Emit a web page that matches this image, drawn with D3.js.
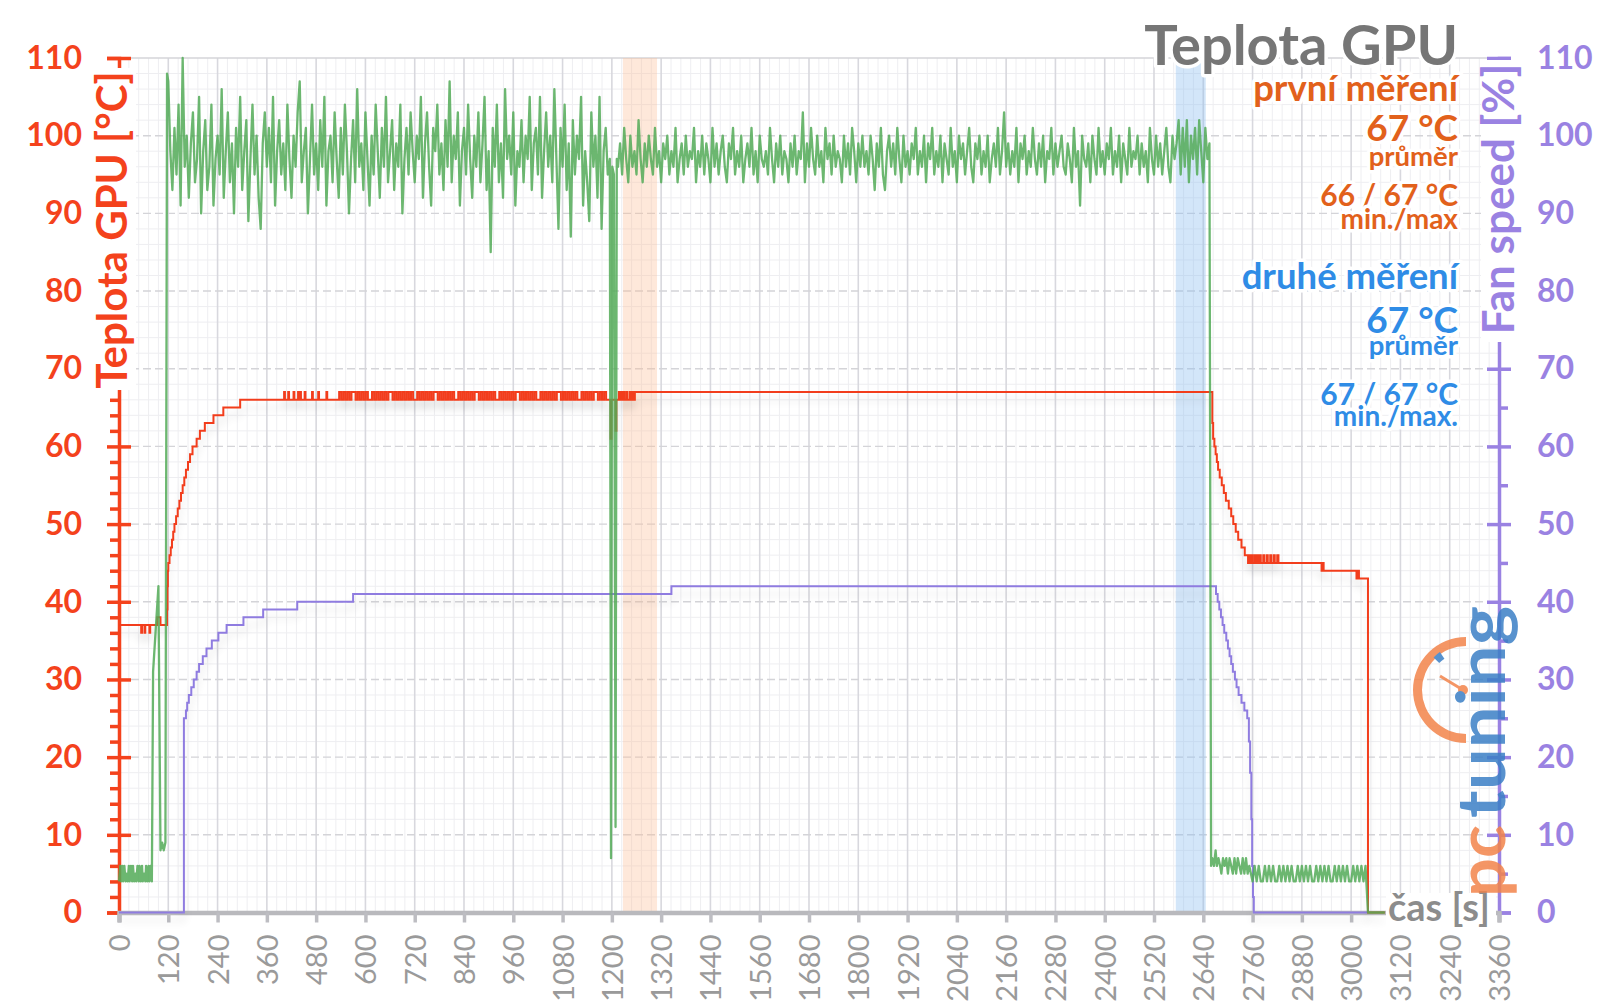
<!DOCTYPE html>
<html><head><meta charset="utf-8">
<script src="https://cdn.jsdelivr.net/npm/d3@7"></script>
<style>html,body{margin:0;padding:0;background:#fff;}svg{display:block;font-family:Lato,"Open Sans",sans-serif;}</style>
</head><body><svg id="chart" width="1600" height="1007"></svg>
<script>
// ---------------- DATA ----------------
const xTicks = d3.range(0, 3361, 120);
const yTicks = d3.range(0, 111, 10);

// GPU temperature (°C) – breakpoints (s, value)
const tempT1 = [0,54,56,62,64,74,76,93,101,116,117,118,119,120,123,126,129,132,135,139,143,147,151,155,159,163,168,173,179,189,197,209,230,254,295,402,404,412,414,425,427,436,438,441,443,452,454,470,472,485,487,505,507];
const tempV1 = [37,36,37,36,37,36,37,38,37,37,39,42,44,45,46,47,48,49,50,51,52,53,54,55,56,57,58,59,60,61,62,63,64,65,66,67,66,67,66,67,66,67,66,67,66,67,66,67,66,67,66,67,66];
// 66/67 flicker read every 5 s from 536 s
const tempFlickerStart = 536, tempFlickerStep = 5;
const tempFlickerV = [
67,66,67,66,67,66,67,67,66,67,66,67,
66,67,66,66,67,66,67,66,67,66,67,66,
67,67,66,67,66,67,66,67,66,67,66,67,
66,66,67,66,67,66,67,66,67,66,67,67,
66,67,66,67,66,67,66,67,66,66,67,66,
67,66,67,66,67,66,67,67,66,67,66,67,
66,67,66,67,66,66,67,66,67,66,67,66,
67,66,67,67,66,67,66,67,66,67,66,67,
66,66,67,66,67,66,67,66,67,66,67,67,
66,67,66,67,66,67,66,67,66,66,67,66,
67,66,67,66,67,67,66,67,66,67,66,66];
const tempT2 = [1195,1197,1199,1209,1211,1217,1219,1223,1225,1229,1231,1236,1238,1244,1246,1250,1252,1256,2660,2662,2664,2667,2670,2673,2676,2680,2685,2690,2695,2702,2708,2713,2719,2725,2733,2741,2749,2752,2754,2758,2760,2765,2767,2771,2774,2778,2780,2786,2789,2795,2797,2803,2806,2812,2814,2820,2823,2928,2930,2933,3013,3016,3019,3041,3082];
const tempV2 = [66,61,66,62,66,67,66,67,66,67,66,67,66,67,66,67,66,67,67,63,61,60,59,58,57,56,55,54,53,52,51,50,49,48,47,46,45,46,45,46,45,46,45,46,45,46,45,46,45,46,45,46,45,46,45,46,45,44,45,44,43,44,43,0,0];

// GPU load (green) – idle start
const loadStartT = [0,3,5,8,10,13,16,18,21,24,26,29,32,34,37,40,42,45,48,50,53,56,58,61,64,66,69,72,74,77,80,83,96,101,105,109,113,117];
const loadStartV = [4,6,4,6,4,6,4,5,4,6,4,6,4,6,4,5,4,6,4,6,4,6,4,5,4,6,4,6,4,6,4,31,42,8,9,8,9,108];
// first measurement, read every 5 s from 120 s
const load1Start = 120, load1Step = 5;
const load1V = [
107,98,93,101,95,104,91,110,96,100,92,99,
103,94,97,105,90,98,102,93,96,104,91,97,
100,95,106,92,98,103,94,99,90,101,96,105,
93,98,102,89,97,104,95,100,92,88,99,103,
96,101,94,105,91,98,102,95,99,93,104,97,
92,100,96,103,107,94,98,101,90,97,104,95,
99,93,102,96,105,91,98,100,94,103,97,92,
101,95,104,98,90,97,102,94,106,96,99,93,
103,97,91,100,95,104,98,92,101,96,105,94,
98,102,93,99,96,104,90,97,101,95,103,98,
94,100,97,105,92,99,103,96,91,101,98,104,
95,99,93,102,96,107,94,100,97,103,91,98,
101,95,104,97,92,100,96,103,94,99,105,93,
98,85,101,96,104,94,99,92,106,97,100,95,
103,91,98,96,102,94,100,97,105,93,99,101,
95,105,92,98,103,96,100,94,106,97,88,101,
96,104,93,99,87,102,95,100,97,105,91,98,
94,89,103,96,100,92,105,88,98,101,95,97];
const loadDipT = [1198,1201,1205,1209,1212];
const loadDipV = [7,96,95,11,97];
// second measurement, read every 5 s from 1215 s
const load2Start = 1215, load2Step = 5;
const load2V = [
96,99,95,101,97,94,100,96,98,95,102,97,
94,99,96,100,97,95,101,96,98,94,99,97,
100,95,98,96,101,94,97,99,95,100,96,98,
97,101,94,98,96,100,95,99,97,94,101,96,
99,95,98,100,96,94,99,97,101,95,98,96,
100,94,97,99,96,101,95,98,94,100,97,96,
98,95,101,97,94,99,96,100,95,98,97,94,
99,96,100,95,98,97,103,94,99,96,101,97,
95,100,96,98,94,101,97,99,95,100,96,98,
97,94,100,96,99,95,101,98,94,99,96,100,
96,98,95,100,97,93,99,96,101,95,93,98,
100,96,99,95,101,97,94,100,96,98,95,99,
97,101,95,98,96,100,94,99,97,101,95,98,
96,100,94,99,97,95,101,96,98,94,100,97,
99,95,98,101,96,94,99,97,100,95,98,96,
100,94,97,99,96,101,95,98,103,96,99,95,
98,96,101,94,99,97,100,95,98,96,101,97,
95,99,96,100,94,98,97,101,95,99,96,98,
100,96,95,99,97,94,101,96,98,91,100,97,
96,99,94,100,97,95,101,96,98,95,99,97,
101,95,98,96,100,94,99,97,95,101,96,98,
97,100,95,99,96,98,94,101,97,95,100,96,
99,95,98,101,96,94,100,97,99,102,95,101,
96,102,94,100,97,101,95,102,98,94,101,97,
99];
const loadTailT = [2659,2662,2666,2670,2673,2677,2681,2684,2688,2692,2696,2700,2704,2708,2712,2716,2720,2724,2728,2732,2736,2740,2744,2748,2752,2756];
const loadTailV = [6,7,6,8,6,7,6,5,7,6,7,5,7,6,5,7,5,7,6,5,7,5,7,5,6,5];
const loadIdleStart = 2760, loadIdleStep = 5;
const loadIdleV = [4,6,4,6,4,4,6,4,6,4,6,4,4,6,4,6,4,6,4,6,4,4,6,4,6,4,6,4,6,4,4,6,4,6,4,6,4,6,4,4,6,4,6,4,6,4,6,4,4,6,4,6,4,6,4,6];
const loadEndT = [3041,3082];
const loadEndV = [0,0];

// Fan speed (%)
const fanT = [0,158,163,166,170,176,182,189,195,204,213,226,242,262,303,351,434,570,1345,2668,2671,2675,2679,2683,2687,2691,2696,2700,2704,2708,2712,2717,2721,2726,2733,2740,2747,2751,2754,2757,2759,2761,2763,3041];
const fanV = [0,25,26,27,28,29,30,31,32,33,34,35,36,37,38,39,40,41,42,42,41,40,39,38,37,36,35,34,33,32,31,30,29,28,27,26,25,22,18,12,6,2,0,0];

// highlighted windows (s)
const bandStart = [1227, 2573];
const bandEnd = [1310, 2646];

// texts
const chartTitle = "Teplota GPU";
const leftTitle = "Teplota GPU [°C]";
const rightTitle = "Fan speed [%]";
const xTitle = "čas [s]";
const legend1 = ["první měření", "67 °C", "průměr", "66 / 67 °C", "min./max"];
const legend2 = ["druhé měření", "67 °C", "průměr", "67 / 67 °C", "min./max."];

// ---------------- DRAW ----------------
const zip = (t, v) => t.map((d, i) => [d, v[i]]);
const seq = (s, st, v) => v.map((d, i) => [s + i * st, d]);

const tempData = [...zip(tempT1, tempV1), ...seq(tempFlickerStart, tempFlickerStep, tempFlickerV), ...zip(tempT2, tempV2)];
const loadData = [...zip(loadStartT, loadStartV), ...seq(load1Start, load1Step, load1V), ...zip(loadDipT, loadDipV),
  ...seq(load2Start, load2Step, load2V), ...zip(loadTailT, loadTailV), ...seq(loadIdleStart, loadIdleStep, loadIdleV), ...zip(loadEndT, loadEndV)];
const fanData = zip(fanT, fanV);

const svg = d3.select("#chart");
const x = d3.scaleLinear().domain([0, 3360]).range([119, 1499]);
const y = d3.scaleLinear().domain([0, 110]).range([912.5, 58]);
const yR = d3.scaleLinear().domain([0, 110]).range([912.5, 58]);

const defs = svg.append("defs");
const f = defs.append("filter").attr("id", "shadow").attr("x", "-5%").attr("y", "-20%").attr("width", "110%").attr("height", "160%");
f.append("feGaussianBlur").attr("in", "SourceAlpha").attr("stdDeviation", 4).attr("result", "b");
f.append("feOffset").attr("in", "b").attr("dy", 8).attr("result", "o");
const ct = f.append("feComponentTransfer").attr("in", "o").attr("result", "s");
ct.append("feFuncA").attr("type", "linear").attr("slope", 0.12);
const fm = f.append("feMerge");
fm.append("feMergeNode").attr("in", "s");
fm.append("feMergeNode").attr("in", "SourceGraphic");

// grid
const grid = svg.append("g");
grid.selectAll(".vmin").data(d3.range(0, 3361, 24).filter(d => d % 120)).join("line")
  .attr("x1", d => x(d)).attr("x2", d => x(d)).attr("y1", y(110)).attr("y2", y(0))
  .attr("stroke", "#eeeef1").attr("stroke-width", 1);
grid.selectAll(".hmin").data(d3.range(0, 111, 2).filter(d => d % 10)).join("line")
  .attr("x1", x(0)).attr("x2", x(3360)).attr("y1", d => y(d)).attr("y2", d => y(d))
  .attr("stroke", "#eeeef1").attr("stroke-width", 1);
grid.selectAll(".vmaj").data(xTicks.filter(d => d > 0)).join("line")
  .attr("x1", d => x(d)).attr("x2", d => x(d)).attr("y1", y(110)).attr("y2", y(0))
  .attr("stroke", "#d8d8de").attr("stroke-width", 1.6);
grid.selectAll(".hmaj").data(yTicks.filter(d => d > 0)).join("line")
  .attr("x1", x(0)).attr("x2", x(3360)).attr("y1", d => y(d)).attr("y2", d => y(d))
  .attr("stroke", "#d4d4d8").attr("stroke-width", 1.4).attr("stroke-dasharray", d => d === 110 ? null : "8,4");

// bands
svg.append("g").selectAll("rect").data(bandStart).join("rect")
  .attr("x", d => x(d)).attr("width", (d, i) => x(bandEnd[i]) - x(d))
  .attr("y", y(110)).attr("height", y(0) - y(110))
  .attr("fill", (d, i) => i === 0 ? "rgba(252,190,150,0.35)" : "rgba(140,190,240,0.38)");

// axes
const red = "#f4421c", purple = "#9a82e2", gray = "#9a9a9a";
const axL = svg.append("g").attr("transform", `translate(${x(0)},0)`)
  .call(d3.axisLeft(y).tickValues(yTicks).tickSize(12).tickPadding(25));
axL.select(".domain").attr("stroke", red).attr("stroke-width", 3.5);
axL.selectAll(".tick line").attr("stroke", red).attr("stroke-width", 3.5).attr("x1", 12);
axL.selectAll(".tick text").attr("fill", red).attr("font-size", 32).attr("font-weight", 700).attr("font-family", "Lato");
const axLm = svg.append("g").attr("transform", `translate(${x(0)},0)`)
  .call(d3.axisLeft(y).tickValues(d3.range(0, 111, 2).filter(d => d % 10)).tickSize(9).tickFormat(""));
axLm.select(".domain").remove();
axLm.selectAll(".tick line").attr("stroke", red).attr("stroke-width", 3.5);

const axR = svg.append("g").attr("transform", `translate(${x(3360)},0)`)
  .call(d3.axisRight(yR).tickValues(yTicks).tickSize(12).tickPadding(26));
axR.select(".domain").attr("stroke", purple).attr("stroke-width", 3.5);
axR.selectAll(".tick line").attr("stroke", purple).attr("stroke-width", 3.5).attr("x1", -12);
axR.selectAll(".tick text").attr("fill", purple).attr("font-size", 32).attr("font-weight", 700).attr("font-family", "Lato");
const axRm = svg.append("g").attr("transform", `translate(${x(3360)},0)`)
  .call(d3.axisRight(yR).tickValues(d3.range(5, 111, 10)).tickSize(9).tickFormat(""));
axRm.select(".domain").remove();
axRm.selectAll(".tick line").attr("stroke", purple).attr("stroke-width", 3.5);

const axB = svg.append("g").attr("transform", `translate(0,${y(0)})`)
  .call(d3.axisBottom(x).tickValues(xTicks).tickSize(10).tickFormat(d3.format("d")));
axB.select(".domain").attr("stroke", "#b9b9bd").attr("stroke-width", 4.5);
axB.selectAll(".tick line").attr("stroke", "#bdbdc2").attr("stroke-width", 3.5);
axB.selectAll(".tick text").attr("fill", gray).attr("font-size", 29).attr("font-family", "Lato")
  .attr("transform", "rotate(-90)").attr("text-anchor", "end").attr("x", -22).attr("y", 0).attr("dy", "0.36em");

// lines
const line = d3.line().x(d => x(d[0])).y(d => y(d[1])).curve(d3.curveStepAfter);
const lineLin = d3.line().x(d => x(d[0])).y(d => y(d[1]));
const lineR = d3.line().x(d => x(d[0])).y(d => yR(d[1])).curve(d3.curveStepAfter);
svg.append("path").datum(fanData).attr("d", lineR).attr("fill", "none").attr("stroke", "#8f7ce0").attr("stroke-width", 2).attr("filter", "url(#shadow)");
svg.append("path").datum(tempData).attr("d", line).attr("fill", "none").attr("stroke", "#f23d1c").attr("stroke-width", 2).attr("filter", "url(#shadow)");
svg.append("path").datum(loadData).attr("d", lineLin).attr("fill", "none").attr("stroke", "#52aa57").attr("stroke-width", 2.3).attr("stroke-opacity", 0.85).attr("stroke-linejoin", "round");

// axis titles with white backing
svg.append("rect").attr("x", 94).attr("y", 68).attr("width", 42).attr("height", 322).attr("fill", "#fff");
svg.append("text").attr("transform", `translate(127,${(68 + 392) / 2}) rotate(-90)`).attr("text-anchor", "middle")
  .attr("font-size", 42).attr("font-weight", 700).attr("fill", red).text(leftTitle);
svg.append("rect").attr("x", 1481).attr("y", 60).attr("width", 44).attr("height", 282).attr("fill", "#fff");
svg.append("text").attr("transform", `translate(1514,${(61 + 337) / 2}) rotate(-90)`).attr("text-anchor", "middle")
  .attr("font-size", 44).attr("font-weight", 700).attr("fill", purple).text(rightTitle);
svg.append("rect").attr("x", 1386).attr("y", 893).attr("width", 110).attr("height", 40).attr("fill", "#fff");
svg.append("text").attr("x", 1388).attr("y", 921).attr("font-size", 38).attr("font-weight", 700).attr("fill", "#8c8c8c").text(xTitle);

// logo
const logo = svg.append("g").attr("opacity", 0.85);
const cx = 1466, cy = 690;
logo.append("path").attr("transform", `translate(${cx},${cy})`)
  .attr("d", d3.arc().innerRadius(44).outerRadius(53).startAngle(Math.PI).endAngle(2 * Math.PI)()).attr("fill", "#f3834a");
logo.append("path").attr("transform", `translate(${cx},${cy})`)
  .attr("d", d3.arc().innerRadius(38).outerRadius(46).startAngle(5.5).endAngle(5.68)()).attr("fill", "#3a7fc6");
logo.append("line").attr("x1", cx - 3).attr("y1", cy).attr("x2", cx - 26).attr("y2", cy - 14).attr("stroke", "#f3834a").attr("stroke-width", 3);
logo.append("circle").attr("cx", cx - 3).attr("cy", cy).attr("r", 5).attr("fill", "#f3834a");
logo.append("text").attr("transform", "translate(1505,897) rotate(-90)").attr("font-size", 66).attr("font-weight", 700)
  .attr("fill", "#f3834a").attr("textLength", 72).attr("lengthAdjust", "spacingAndGlyphs").text("pc");
logo.append("text").attr("transform", "translate(1505,818) rotate(-90)").attr("font-size", 66).attr("font-weight", 700)
  .attr("fill", "#3a7fc6").attr("textLength", 212).attr("lengthAdjust", "spacingAndGlyphs").text("tuning");

// title + legend
const halo = sel => sel.attr("stroke", "#fff").attr("stroke-width", 7).attr("stroke-linejoin", "round").attr("paint-order", "stroke");
svg.append("text").attr("x", 1458).attr("y", 65).attr("text-anchor", "end").attr("font-size", 56).attr("font-weight", 700)
  .attr("fill", "#767676").text(chartTitle).call(halo);
const legSizes = [36.5, 37, 27.5, 30, 28];
const leg1Y = [101, 141, 166, 206, 229];
const leg2Y = [289, 333, 355, 405, 426];
legend1.forEach((t, i) => svg.append("text").attr("x", 1458).attr("y", leg1Y[i]).attr("text-anchor", "end")
  .attr("font-size", legSizes[i]).attr("font-weight", 700).attr("fill", "#e2611b").text(t).call(halo));
legend2.forEach((t, i) => svg.append("text").attr("x", 1458).attr("y", leg2Y[i]).attr("text-anchor", "end")
  .attr("font-size", legSizes[i]).attr("font-weight", 700).attr("fill", "#2f8ce6").text(t).call(halo));
</script></body></html>
